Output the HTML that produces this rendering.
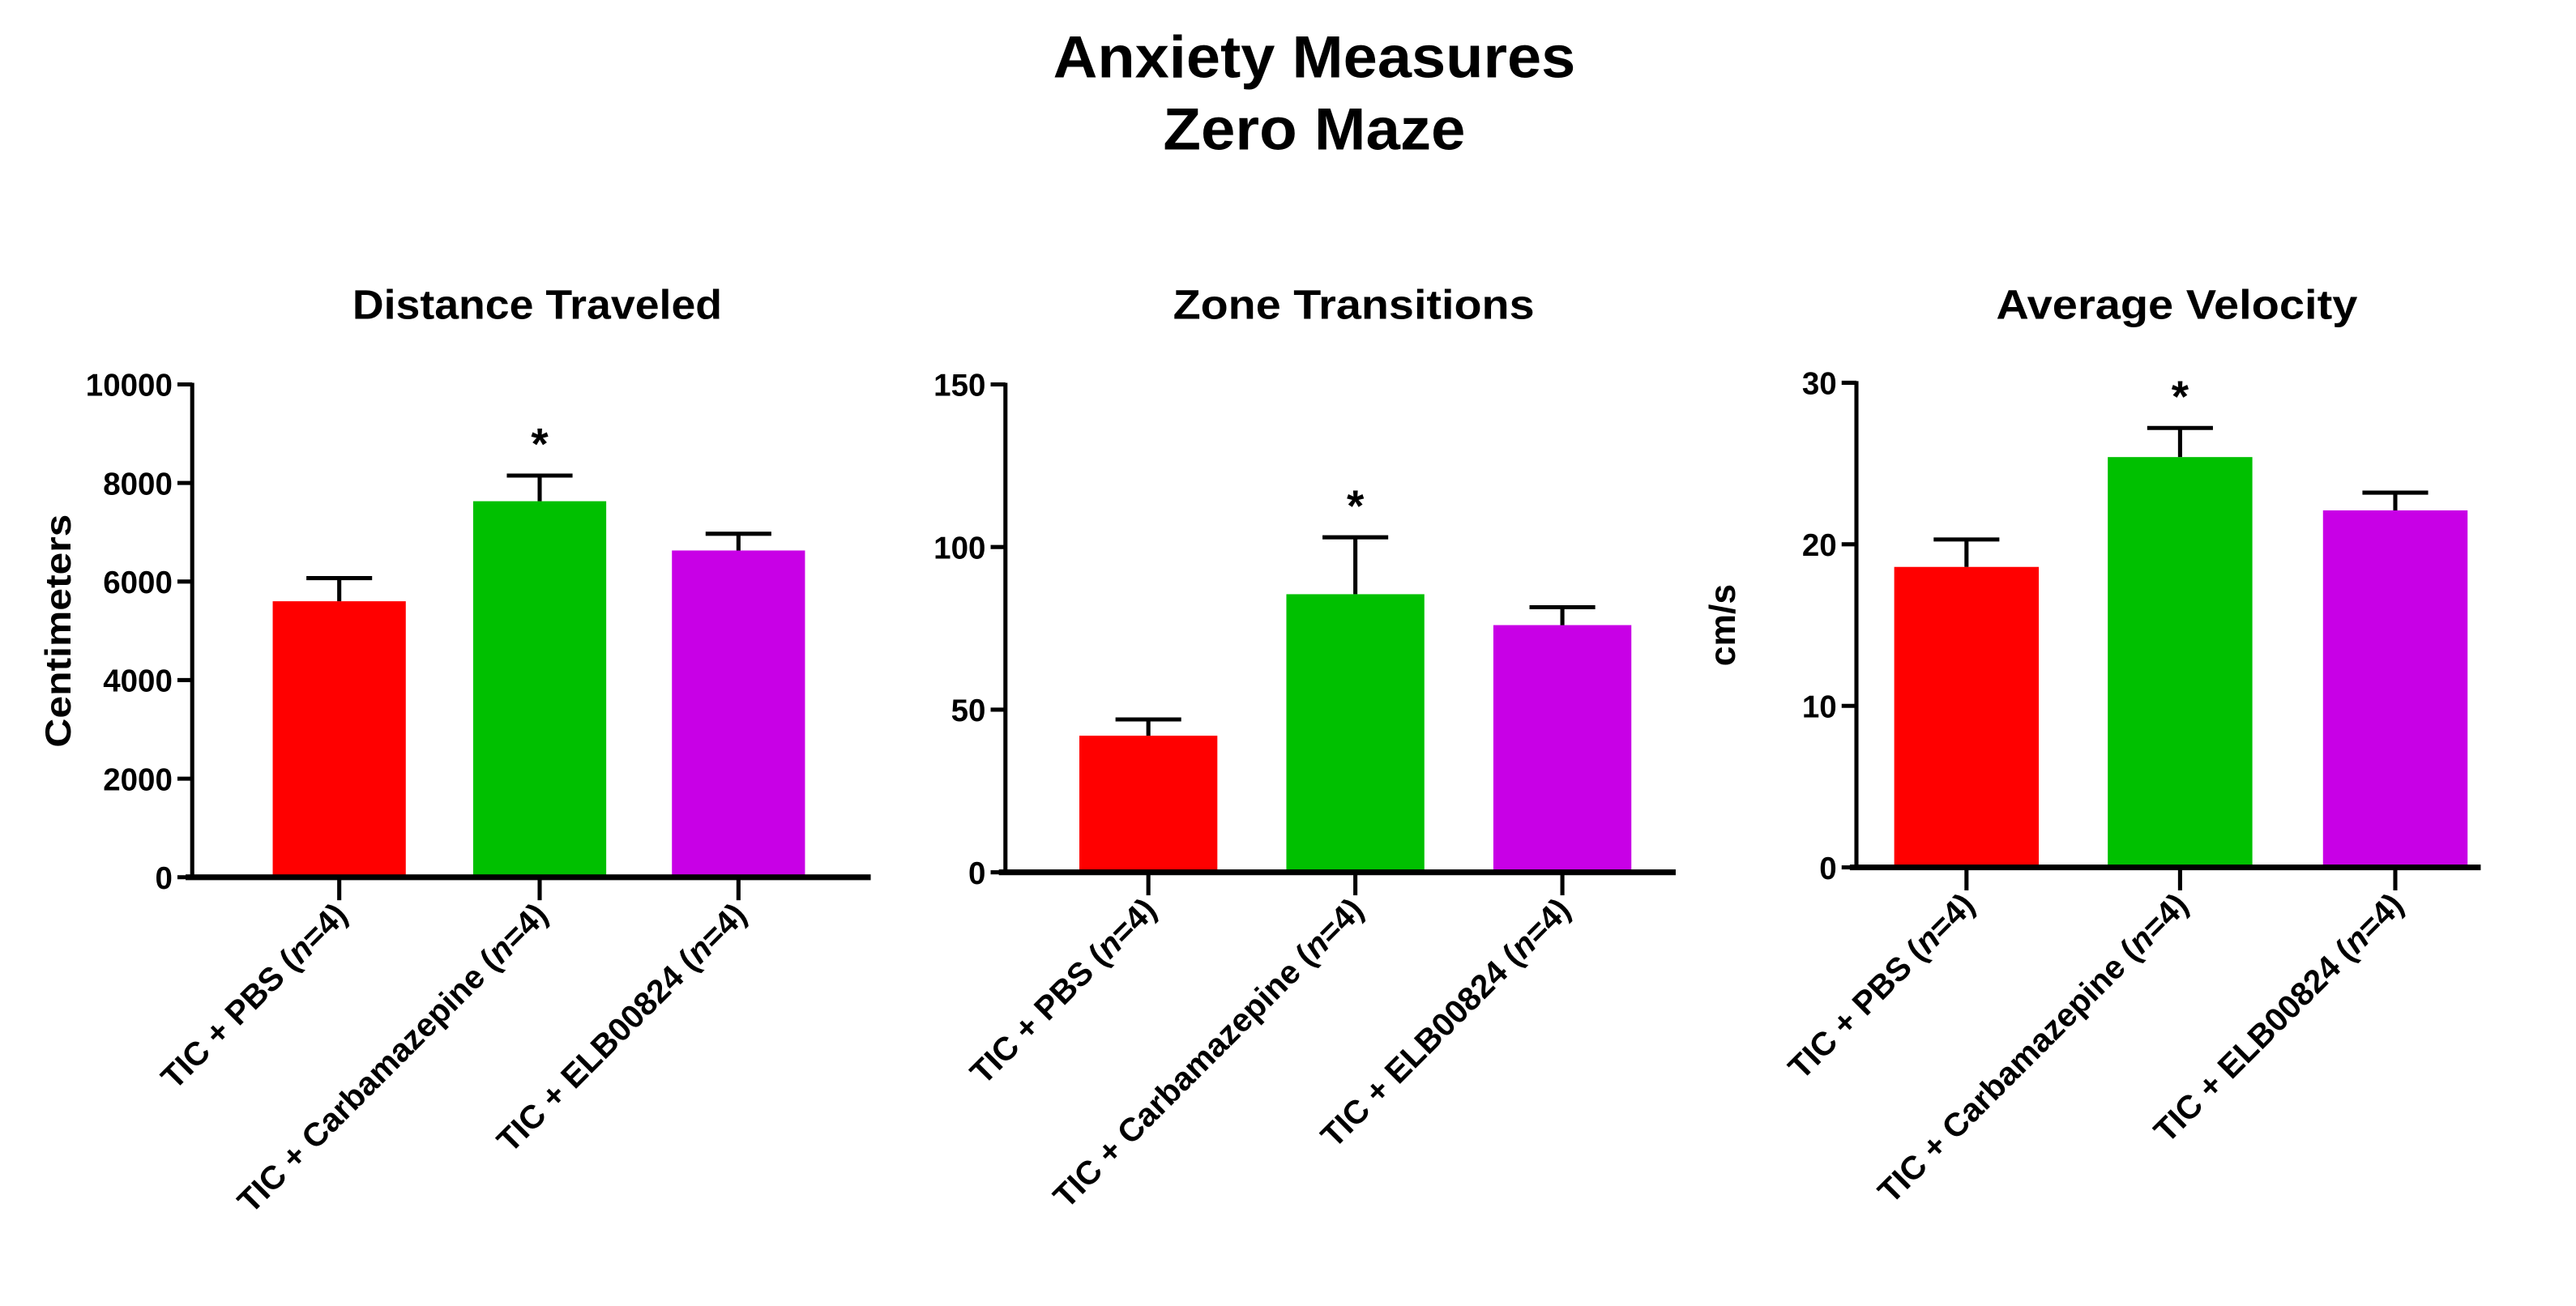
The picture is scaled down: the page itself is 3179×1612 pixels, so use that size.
<!DOCTYPE html>
<html><head><meta charset="utf-8"><style>
html,body{margin:0;padding:0;background:#fff;}
svg{display:block;}
text{font-family:"Liberation Sans",Arial,sans-serif;font-weight:bold;fill:#000;}
</style></head><body>
<svg id="chart" width="3179" height="1612" viewBox="0 0 1568 795" preserveAspectRatio="none" xmlns="http://www.w3.org/2000/svg">
<text x="800" y="47" text-anchor="middle" font-size="36" textLength="318" lengthAdjust="spacingAndGlyphs">Anxiety Measures</text>
<text x="800" y="91" text-anchor="middle" font-size="36" textLength="184" lengthAdjust="spacingAndGlyphs">Zero Maze</text>
<g id="panels"></g>
</svg>
<script>
const categories = ["TIC + PBS", "TIC + Carbamazepine", "TIC + ELB00824"];
const colors = ["#ff0000", "#00c000", "#c800e6"];
const distanceMeans = [5600, 7630, 6630];
const distanceErr = [470, 520, 340];
const distanceTicks = [0, 2000, 4000, 6000, 8000, 10000];
const transitionMeans = [42, 85.5, 76];
const transitionErr = [5, 17.5, 5.5];
const transitionTicks = [0, 50, 100, 150];
const velocityMeans = [18.6, 25.4, 22.1];
const velocityErr = [1.7, 1.8, 1.1];
const velocityTicks = [0, 10, 20, 30];
const sigFlags = [[false, true, false], [false, true, false], [false, true, false]];

const panels = [
  {name:"distance-traveled", title:"Distance Traveled", tw:225, ytitle:"Centimeters", yw:142, means:distanceMeans, err:distanceErr, ticks:distanceTicks,
   ax:117, top:234, base:534, right:530, bx:[166,288,409], bw:81, tx:327, ytx:35, sig:sigFlags[0]},
  {name:"zone-transitions", title:"Zone Transitions", tw:220, ytitle:"", yw:0, means:transitionMeans, err:transitionErr, ticks:transitionTicks,
   ax:612, top:234, base:531, right:1020, bx:[657,783,909], bw:84, tx:824, ytx:0, sig:sigFlags[1]},
  {name:"average-velocity", title:"Average Velocity", tw:220, ytitle:"cm/s", yw:50, means:velocityMeans, err:velocityErr, ticks:velocityTicks,
   ax:1130, top:233, base:528, right:1510, bx:[1153,1283,1414], bw:88, tx:1325, ytx:1048, sig:sigFlags[2]}
];
const NS = "http://www.w3.org/2000/svg";
const root = document.getElementById("panels");
function mk(tag, attrs, parent){
  const e = document.createElementNS(NS, tag);
  for (const k in attrs) e.setAttribute(k, attrs[k]);
  parent.appendChild(e);
  return e;
}
panels.forEach(p => {
  const g = mk("g", {}, root);
  
  
  const maxV = p.ticks[p.ticks.length-1];
  const y = v => p.base - (v / maxV) * (p.base - p.top);
  const t = mk("text", {x:p.tx, y:194, "text-anchor":"middle", "font-size":"25", textLength:p.tw, lengthAdjust:"spacingAndGlyphs"}, g);
  t.textContent = p.title;
  
  
  if (p.ytitle) {
    const cy = (p.top+p.base)/2;
    const yt = mk("text", {x:p.ytx, y:cy, "text-anchor":"middle", "font-size":"22", transform:`rotate(-90 ${p.ytx} ${cy})`, dy:"8", textLength:p.yw, lengthAdjust:"spacingAndGlyphs"}, g);
    yt.textContent = p.ytitle;
    
    
  }
  p.means.forEach((m, i) => {
    const r = mk("rect", {x:p.bx[i], y:y(m), width:p.bw, height:p.base - y(m), fill:colors[i]}, g);
    
    
    const cx = p.bx[i] + p.bw/2, ye = y(m + p.err[i]);
    const el = mk("path", {d:`M${cx} ${y(m)} V${ye} M${cx-20} ${ye} H${cx+20}`, stroke:"#000", "stroke-width":"2.5", fill:"none"}, g);
    
    
    if (p.sig[i]) {
      const s = mk("text", {x:cx, y:ye - 10, "text-anchor":"middle", "font-size":"27"}, g);
      s.textContent = "*";
      
      
    }
    const xt = mk("line", {x1:cx, x2:cx, y1:p.base, y2:p.base+14, stroke:"#000", "stroke-width":"2.5"}, g);
    
    
    const lx = cx + 6, ly = p.base + 24;
    const lab = mk("text", {x:lx, y:ly, "text-anchor":"end", "font-size":"20", transform:`rotate(-45 ${lx} ${ly})`}, g);
    
    
    const s1 = mk("tspan", {}, lab); s1.textContent = categories[i] + " (";
    const s2 = mk("tspan", {"font-style":"italic"}, lab); s2.textContent = "n";
    const s3 = mk("tspan", {}, lab); s3.textContent = "=4)";
  });
  const ya = mk("line", {x1:p.ax, x2:p.ax, y1:p.top-1, y2:p.base, stroke:"#000", "stroke-width":"2.5"}, g);
  
  
  const xa = mk("line", {x1:p.ax-4, x2:p.right, y1:p.base, y2:p.base, stroke:"#000", "stroke-width":"3.5"}, g);
  
  
  p.ticks.forEach(v => {
    const tk = mk("line", {x1:p.ax-9, x2:p.ax, y1:y(v), y2:y(v), stroke:"#000", "stroke-width":"2.5"}, g);
    
    
    const tl = mk("text", {x:p.ax-12, y:y(v)+7, "text-anchor":"end", "font-size":"19"}, g);
    tl.textContent = v;
    
    
  });
});
</script>
</body></html>
